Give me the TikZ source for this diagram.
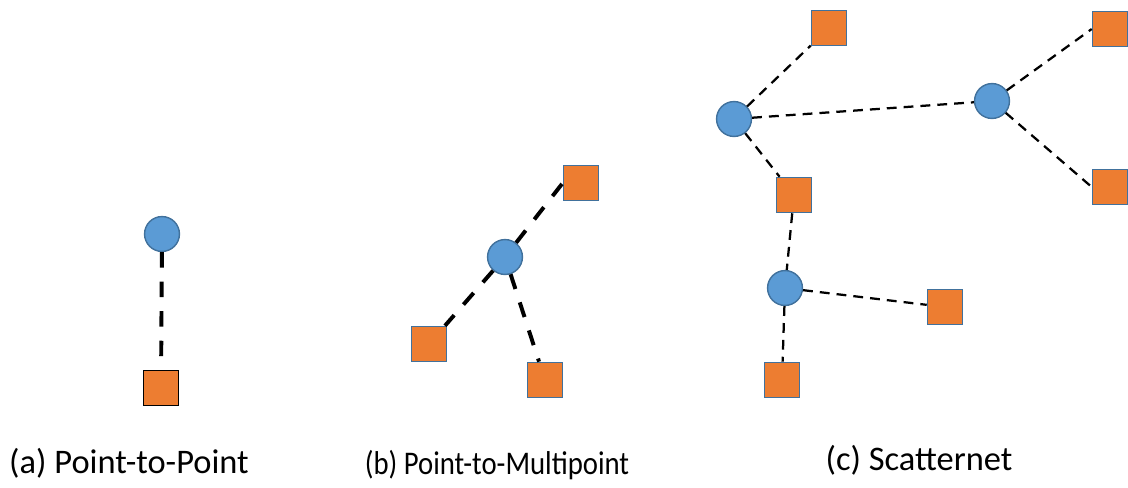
\documentclass[tikz,border=0pt]{standalone}
\usepackage{fontspec}
\setmainfont{Carlito}
\definecolor{hubfill}{HTML}{5B9BD5}
\definecolor{hubline}{HTML}{41719C}
\definecolor{devfill}{HTML}{ED7D31}
\newcommand{\unitpx}{*0.709pt}
\tikzset{
    hub/.style={circle, draw=hubline, fill=hubfill, line width=1pt,
                minimum size=35\unitpx, inner sep=0pt},
    dev/.style={rectangle, draw=hubline, fill=devfill, line width=1.2pt,
                minimum size=35\unitpx, inner sep=0pt},
    link/.style={line width=1.6pt, dash pattern=on 7pt off 5pt},
    heavylink/.style={line width=2.8pt, dash pattern=on 11pt off 10pt},
    caption/.style={font=\fontsize{24.5}{28}\selectfont, anchor=base},
}

\begin{document}
\begin{tikzpicture}[x=0.025cm, y=-0.025cm]
    \useasboundingbox (0,0) rectangle (1128,487);

    % (a) point to point
    \node[hub] (pa) at (162,234) {};
    \node[dev, draw=black] (da) at (161,388) {};
    \draw[heavylink] (pa) -- (da);

    % (b) point to multipoint
    \node[hub] (pb) at (505,257) {};
    \node[dev] (db1) at (581,183) {};
    \node[dev] (db2) at (429,344) {};
    \node[dev] (db3) at (545,380) {};
    \draw[heavylink] (pb) -- (db1.west);
    \draw[heavylink] (pb) -- (db2);
    \draw[heavylink] (pb) -- (db3);

    % (c) scatternet
    \node[hub] (p1) at (734,119) {};
    \node[hub] (p2) at (992,101) {};
    \node[hub] (p3) at (785,288) {};
    \node[dev] (d1) at (829,28) {};
    \node[dev] (d2) at (1110,29) {};
    \node[dev] (d3) at (1110,187) {};
    \node[dev] (d4) at (794,195) {};
    \node[dev] (d5) at (945,307) {};
    \node[dev] (d6) at (782,380) {};
    \draw[link] (p1) -- (d1);
    \draw[link] (p1) -- (p2);
    \draw[link] (p2) -- (d2.west);
    \draw[link] (p2) -- (d3.west);
    \draw[link] (p1) -- (d4);
    \draw[link] (d4) -- (p3);
    \draw[link] (p3) -- (d5);
    \draw[link] (p3) -- (d6);

    \node[caption] (ca) at (129,473) {(a) Point-to-Point};
    \node[caption, font=\fontsize{23.5}{28}\selectfont] (cb) at (497,474)
        {\scalebox{0.87}[1]{(b) Point-to-Multipoint}};
    \node[caption] (cc) at (919,470) {(c) Scatternet};
\end{tikzpicture}
\end{document}
